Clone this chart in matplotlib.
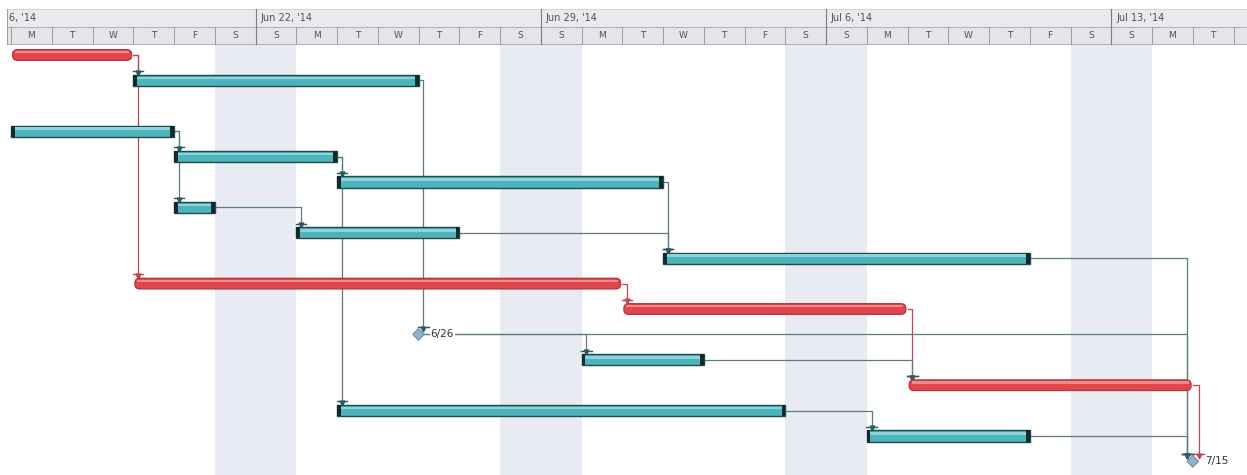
import matplotlib
matplotlib.use("Agg")
import matplotlib.pyplot as plt
from matplotlib.patches import Rectangle, FancyBboxPatch, Polygon

# ---------------- data ----------------
week_labels = ["6, '14", "Jun 22, '14", "Jun 29, '14", "Jul 6, '14", "Jul 13, '14"]
week_starts = [-1, 6, 13, 20, 27]          # day index of each Sunday (day 0 = Mon Jun 16 2014)
day_letters = ["S", "M", "T", "W", "T", "F", "S"]

task_start = [0, 3, None, 0, 4, 8, 4, 7, 16, 3, 15, 10, 14, 22, 8, 21, 29]
task_end   = [3, 10, None, 4, 8, 16, 5, 11, 25, 15, 22, 10, 17, 29, 19, 25, 29]
task_kind  = ["crit", "task", "blank", "task", "task", "task", "task", "task", "task",
              "crit", "crit", "ms", "task", "crit", "task", "task", "ms"]
ms_labels  = {11: "6/26", 16: "7/15"}

links = [(0, 1), (0, 9), (1, 11), (3, 4), (3, 6), (4, 5), (4, 14), (6, 7), (5, 8),
         (7, 8), (8, 16), (9, 10), (10, 13), (11, 12), (11, 16), (12, 13), (13, 16),
         (14, 15), (15, 16)]

# ---------------- layout helpers ----------------
W, H = 1247, 475
DAY_PX, X0 = 40.75, 11.0
ROW_PX, Y0 = 25.4, 55.0

def py(p):  # pixel y -> row units
    return (p - Y0) / ROW_PX

fig = plt.figure(figsize=(W / 100, H / 100), dpi=100)
ax = fig.add_axes([0, 0, 1, 1])
ax.set_xlim(-X0 / DAY_PX, (W - X0) / DAY_PX)
ax.set_ylim(py(H), py(0))
ax.axis("off")

n_days = 31
# weekend shading
for d in range(0, n_days):
    if d % 7 in (5, 6):
        ax.add_patch(Rectangle((d, py(44)), 1, py(H) - py(44), facecolor="#e8ebf1",
                               edgecolor="none", zorder=0))

# header
top_a, top_b, bot_b = py(9), py(27), py(44)
x_left = -4 / DAY_PX
ax.add_patch(Rectangle((x_left, top_a), n_days + 2, top_b - top_a, facecolor="#eaeaed",
                       edgecolor="none", zorder=1))
ax.add_patch(Rectangle((x_left, top_b), n_days + 2, bot_b - top_b, facecolor="#e5e5e9",
                       edgecolor="none", zorder=1))
ax.plot([x_left, n_days + 1], [top_b, top_b], color="#b4b4b8", lw=0.8, zorder=2)
ax.plot([x_left, n_days + 1], [bot_b, bot_b], color="#b4b4b8", lw=0.8, zorder=2)
ax.plot([x_left, n_days + 1], [top_a, top_a], color="#d0d0d4", lw=0.6, zorder=2)
ax.plot([x_left, x_left], [top_a, bot_b], color="#9c9ca0", lw=0.7, zorder=2)
for d in range(0, n_days):
    ax.plot([d, d], [top_b, bot_b], color="#9c9ca0", lw=0.7, zorder=2)
    if d < 30:
        ax.text(d + 0.5, (top_b + bot_b) / 2, day_letters[(d + 1) % 7], ha="center",
                va="center", fontsize=6.5, color="#505055", zorder=3)
for lab, ws in zip(week_labels, week_starts):
    if ws >= 0:
        ax.plot([ws, ws], [top_a, bot_b], color="#7c7c80", lw=0.8, zorder=2)
        ax.text(ws + 0.12, (top_a + top_b) / 2, lab, ha="left", va="center",
                fontsize=7, color="#505055", zorder=3)
    else:
        ax.text(x_left + 0.05, (top_a + top_b) / 2, lab, ha="left", va="center",
                fontsize=7, color="#505055", zorder=3)

# links
LINK = "#5d7c80"
CRIT = "#c8434b"
BAR_H = 0.44
for p, s in links:
    pe, ss = task_end[p], task_start[s]
    crit = task_kind[p] == "crit" and task_kind[s] in ("crit", "ms")
    col = CRIT if crit else LINK
    if task_kind[s] == "ms" and s == 16:
        xv = ss + (0.15 if task_kind[p] == "crit" else -0.13)
    else:
        xv = max(pe, ss) + 0.12
    y_end = s - 0.3 if task_kind[s] != "ms" else s - 0.22
    x_start = pe + (0.12 if task_kind[p] == "ms" else 0)
    ax.plot([x_start, xv, xv], [p, p, y_end], color=col, lw=0.9, zorder=4,
            solid_joinstyle="round")
    ac = col if col == CRIT else "#2f5a5e"
    ax.plot([xv], [y_end], marker="v", ms=3.5, color=ac, zorder=5)
    ax.plot([xv - 0.13, xv + 0.13], [y_end - 0.06, y_end - 0.06], color=ac, lw=1.0,
            zorder=5)

# bars
for r, (st, en, kind) in enumerate(zip(task_start, task_end, task_kind)):
    if kind == "blank":
        continue
    if kind == "task":
        ax.add_patch(Rectangle((st, r - BAR_H / 2), en - st, BAR_H, facecolor="#4cb4bc",
                               edgecolor="#1e4a4d", lw=1.0, zorder=6))
        ax.add_patch(Rectangle((st + 0.05, r - BAR_H / 2 + 0.07), en - st - 0.1, 0.1,
                               facecolor="#8fd3d8", edgecolor="none", zorder=7))
        ax.add_patch(Rectangle((st, r - BAR_H / 2), 0.09, BAR_H, facecolor="#13292b",
                               edgecolor="none", zorder=8))
        ax.add_patch(Rectangle((en - 0.09, r - BAR_H / 2), 0.09, BAR_H,
                               facecolor="#13292b", edgecolor="none", zorder=8))
    elif kind == "crit":
        h = 0.42
        ax.add_patch(FancyBboxPatch((st + 0.04, r - h / 2), en - st - 0.08, h,
                                    boxstyle="round,pad=0,rounding_size=0.12",
                                    mutation_aspect=1.6,
                                    facecolor="#e1454d", edgecolor="#b8323a", lw=0.9,
                                    zorder=6))
        ax.add_patch(Rectangle((st + 0.1, r - h / 2 + 0.06), en - st - 0.2, 0.09,
                               facecolor="#ef8a8f", edgecolor="none", zorder=7))
    else:  # milestone
        dx, dy = 0.14, 0.23
        ax.add_patch(Polygon([(st, r - dy), (st + dx, r), (st, r + dy), (st - dx, r)],
                             closed=True, facecolor="#8fb3cf", edgecolor="#6c8fab",
                             lw=0.8, zorder=6))
        ax.text(st + 0.3, r, ms_labels[r], ha="left", va="center", fontsize=7.5,
                color="#303035", zorder=9,
                bbox=dict(facecolor="white", edgecolor="none", pad=0.6))

fig.savefig("out.png", dpi=100)
